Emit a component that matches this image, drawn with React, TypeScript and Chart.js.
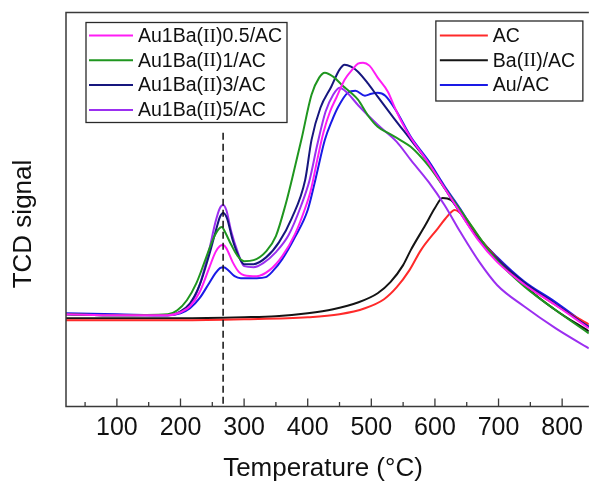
import React, { useEffect, useRef } from "react";
import { Chart, registerables } from "chart.js";

Chart.register(...registerables);

// ---- Data (temperature in °C, TCD signal in arbitrary units) ----
const tempAu05 = [20,100,180,200,215,230,245,255,262,267,272,282,292,300,320,340,360,380,395,405,415,425,435,445,458,470,479,487,497,510,526,537,550,562,590,615,640,667,698,740,790,842];
const sigAu05 = [23,22.75,22.75,23.5,25,28.5,34.5,38.5,40,40.25,39.5,36,33.5,32.75,32.5,34,37.5,43,49,54,61.5,68.5,73.5,77,81.5,84,85.5,85.75,85,82,78.5,74.5,70.25,67,60.75,54.5,48.25,41.75,36,30.5,25.25,19.5];

const tempAu1 = [20,100,180,195,210,225,240,252,260,265,270,280,290,300,315,335,350,365,375,390,406,418,427,440,455,468,479,495,510,526,545,562,590,615,640,660,682,700,740,790,842];
const sigAu1 = [23,22.75,23,24,26.5,30.75,37,42,44.25,44.75,43.5,40.25,37.5,36.25,36.5,38.75,42.5,50.25,56.5,66.5,77.75,82,83.25,82.25,80,78.25,76.5,72.5,69.75,68.25,66.5,64.75,60,54.5,49,44.5,39.5,36,30,24,18.25];

const tempAu3 = [20,100,180,200,215,230,245,255,262,267,273,282,292,300,315,335,355,375,396,406,420,437,450,458,468,479,495,510,535,562,590,615,640,667,698,740,790,842];
const sigAu3 = [23,22.75,22.75,23.75,25.75,30.25,37.75,43.5,47.25,48.25,47,41.5,37.25,35.5,35.5,37.25,41,47,56.5,66.5,74.5,79.75,84,85.25,84.75,83.5,80.5,77.25,72,66.5,60.75,54.5,48.25,42,36.75,31,25.5,19.75];

const tempAu5 = [20,100,180,200,215,230,245,255,262,267,272,280,290,300,315,330,350,370,390,403,415,428,440,450,462,480,510,540,562,590,615,640,670,698,740,790,842];
const sigAu5 = [23,22.75,22.75,23.5,25.25,30.25,39,46,49.5,50.25,49,43.5,38.5,35,34.75,35.75,38.5,42.75,50.25,56.5,65.25,73.5,77.75,79.5,78.25,75,70.25,66,61.5,56,50.25,43.5,36,30.25,25,19.5,14.5];

const tempAC = [20,100,200,300,400,450,490,520,540,560,578,605,620,631,645,670,700,740,790,842];
const sigAC = [21.5,21.5,21.5,21.75,22.25,23,24.5,26.75,29.75,34,39,44.5,47.5,49,47.5,42,36.5,30.75,25.25,20.5];

const tempBa = [20,100,200,300,350,400,440,480,510,530,550,562,585,600,612,625,640,670,700,740,790,842];
const sigBa = [22,22,22,22.25,22.5,23.25,24.25,26,28.25,31,35.25,39,45.25,49.5,52,51.5,48.5,42,36.5,30.25,24,18.75];

const tempAu = [20,100,180,200,215,230,245,255,262,268,275,285,295,320,334,345,360,380,400,412,427,438,448,463,475,490,500,510,522,540,562,590,615,640,667,698,740,790,842];
const sigAu = [23.25,23,22.75,23.25,24.5,27,30.75,33.25,34.5,34.75,34,32.5,32,32,32.25,33.75,36.75,42.25,49,56.5,66.5,71.25,74.75,78.25,78.75,77.5,78,78.25,77.5,73.5,67.25,61.25,55,49.25,42.5,37.25,31.25,26,20];

const seriesLabels = ["Au1Ba(II)0.5/AC", "Au1Ba(II)1/AC", "Au1Ba(II)3/AC", "Au1Ba(II)5/AC", "AC", "Ba(II)/AC", "Au/AC"];
const seriesColors = ["#ff1cf5", "#1f961f", "#16167e", "#9b2ff0", "#ff2a2a", "#141414", "#1a1ae6"];
const seriesTemps = [tempAu05, tempAu1, tempAu3, tempAu5, tempAC, tempBa, tempAu];
const seriesSignals = [sigAu05, sigAu1, sigAu3, sigAu5, sigAC, sigBa, sigAu];

const xTickValues = [100, 200, 300, 400, 500, 600, 700, 800];
const xMinorValues = [50, 150, 250, 350, 450, 550, 650, 750, 850];
const xMin = 20;
const xMax = 842;
const yMin = 0;
const yMax = 98.25;
const dashTemp = 267;
const dashTopSignal = 68.25;

const xTitle = "Temperature (°C)";
const yTitle = "TCD signal";

const SANS = '"Liberation Sans", Arial, Helvetica, sans-serif';
const SERIF = '"Liberation Serif", "Times New Roman", serif';

function drawLabel(ctx: CanvasRenderingContext2D, text: string, x: number, y: number, size: number) {
  const parts = text.split(/(II)/);
  let cx = x;
  for (const p of parts) {
    if (!p) continue;
    ctx.font = `${size}px ${p === "II" ? SERIF : SANS}`;
    ctx.fillText(p, cx, y);
    cx += ctx.measureText(p).width;
  }
}

const decorPlugin = {
  id: "decor",
  afterDatasetsDraw(chart: any) {
    const { ctx, chartArea: a, scales } = chart;
    const x = scales.x;
    const y = scales.y;
    ctx.save();
    // dashed marker line
    const dx = x.getPixelForValue(dashTemp);
    ctx.strokeStyle = "#111";
    ctx.lineWidth = 1.5;
    ctx.setLineDash([7, 4]);
    ctx.beginPath();
    ctx.moveTo(dx, y.getPixelForValue(dashTopSignal));
    ctx.lineTo(dx, a.bottom);
    ctx.stroke();
    ctx.setLineDash([]);

    // frame
    ctx.strokeStyle = "#3a3a3a";
    ctx.lineWidth = 1.5;
    ctx.beginPath();
    ctx.moveTo(a.right, a.top);
    ctx.lineTo(a.left, a.top);
    ctx.lineTo(a.left, a.bottom);
    ctx.lineTo(a.right, a.bottom);
    ctx.stroke();

    // inward ticks
    ctx.lineWidth = 1.3;
    ctx.beginPath();
    for (const v of xTickValues) {
      const px = x.getPixelForValue(v);
      ctx.moveTo(px, a.bottom);
      ctx.lineTo(px, a.bottom - 8);
    }
    for (const v of xMinorValues) {
      if (v > xMax) continue;
      const px = x.getPixelForValue(v);
      ctx.moveTo(px, a.bottom);
      ctx.lineTo(px, a.bottom - 4.5);
    }
    ctx.stroke();

    // legends
    const rowY = (i: number) => a.top + 23 + i * 24.8;
    const boxes = [
      { idx: [0, 1, 2, 3], bx: a.left + 20, by: a.top + 10, bw: 201, bh: 100, l0: a.left + 23, l1: a.left + 67, tx: a.left + 72 },
      { idx: [4, 5, 6], bx: a.right - 153, by: a.top + 8.5, bw: 147, bh: 80, l0: a.right - 149, l1: a.right - 101, tx: a.right - 96 },
    ];
    for (const b of boxes) {
      ctx.fillStyle = "#ffffff";
      ctx.fillRect(b.bx, b.by, b.bw, b.bh);
      ctx.strokeStyle = "#2a2a2a";
      ctx.lineWidth = 1.3;
      ctx.strokeRect(b.bx, b.by, b.bw, b.bh);
      b.idx.forEach((si, i) => {
        const ry = rowY(i);
        ctx.strokeStyle = seriesColors[si];
        ctx.lineWidth = 2;
        ctx.beginPath();
        ctx.moveTo(b.l0, ry);
        ctx.lineTo(b.l1, ry);
        ctx.stroke();
        ctx.fillStyle = "#111";
        ctx.textBaseline = "middle";
        ctx.textAlign = "left";
        drawLabel(ctx, seriesLabels[si], b.tx, ry + 1, 19.5);
      });
    }
    ctx.restore();
  },
  afterDraw(chart: any) {
    const { ctx, chartArea: a } = chart;
    ctx.save();
    ctx.fillStyle = "#111";
    ctx.font = `26px ${SANS}`;
    ctx.textAlign = "center";
    ctx.textBaseline = "alphabetic";
    ctx.fillText(xTitle, a.left + 257, 476);
    ctx.translate(31, a.top + 211.5);
    ctx.rotate(-Math.PI / 2);
    ctx.fillText(yTitle, 0, 0);
    ctx.restore();
  },
};

export default function App() {
  const ref = useRef<HTMLCanvasElement | null>(null);
  useEffect(() => {
    if (!ref.current) return;
    const chart = new Chart(ref.current, {
      type: "line",
      data: {
        datasets: seriesLabels.map((label, i) => ({
          label,
          data: seriesTemps[i].map((t, j) => ({ x: t, y: seriesSignals[i][j] })),
          borderColor: seriesColors[i],
          backgroundColor: seriesColors[i],
          borderWidth: 2,
          pointRadius: 0,
          fill: false,
          cubicInterpolationMode: "monotone" as const,
        })),
      },
      options: {
        animation: false,
        responsive: false,
        devicePixelRatio: 1,
        layout: { padding: { top: 12.5, right: 0, left: 0, bottom: 0 } },
        plugins: {
          legend: { display: false },
          tooltip: { enabled: false },
          title: { display: false },
        },
        scales: {
          x: {
            type: "linear",
            min: xMin,
            max: xMax,
            grid: { display: false, drawTicks: false },
            border: { display: false },
            afterBuildTicks: (axis: any) => {
              axis.ticks = xTickValues.map((v) => ({ value: v }));
            },
            afterFit: (axis: any) => {
              axis.height = 74.5;
            },
            ticks: {
              autoSkip: false,
              maxRotation: 0,
              minRotation: 0,
              padding: 9,
              color: "#111",
              font: { family: SANS, size: 25, lineHeight: 1 },
              callback: (v: any) => String(v),
            },
            title: { display: false, text: xTitle },
          },
          y: {
            type: "linear",
            min: yMin,
            max: yMax,
            grid: { display: false, drawTicks: false },
            border: { display: false },
            ticks: { display: false },
            afterFit: (axis: any) => {
              axis.width = 66;
            },
            title: { display: false, text: yTitle },
          },
        },
      },
      plugins: [decorPlugin],
    });
    return () => chart.destroy();
  }, []);
  return (
    <div style={{ position: "fixed", left: 0, top: 0, width: 592, height: 481, background: "#fff" }}>
      <canvas ref={ref} width={592} height={481} style={{ display: "block" }} />
    </div>
  );
}
